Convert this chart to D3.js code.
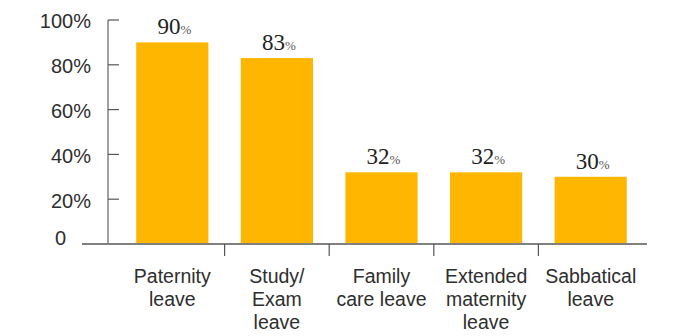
<!DOCTYPE html>
<html>
<head>
<meta charset="utf-8">
<script src="https://cdn.jsdelivr.net/npm/d3@7"></script>
<style>
  html, body { margin: 0; padding: 0; background: #fff; }
  svg { display: block; }
</style>
</head>
<body>
<svg id="chart" width="681" height="336"></svg>
<script>
// Share of respondents offered each type of leave
const categories = [
  ["Paternity", "leave"],
  ["Study/", "Exam", "leave"],
  ["Family", "care leave"],
  ["Extended", "maternity", "leave"],
  ["Sabbatical", "leave"]
];
const values = [90, 83, 32, 32, 30];
const yTicks = [0, 20, 40, 60, 80, 100];

const svg = d3.select("#chart");
const ids = categories.map((c, i) => i);

const x = d3.scaleBand().domain(ids).range([120, 643]).paddingInner(0.31).paddingOuter(0.155);
const xBand = d3.scaleBand().domain(ids).range([120, 643]);
const y = d3.scaleLinear().domain([0, 100]).range([244, 20]);

const axisColor = "#808080";
const textColor = "#2e2e2e";
const sans = "'Liberation Sans', Arial, Helvetica, sans-serif";
const serif = "'Liberation Serif', 'Times New Roman', serif";

// Bars
svg.append("g").selectAll("rect")
  .data(values)
  .join("rect")
  .attr("x", (d, i) => x(i))
  .attr("y", d => y(d))
  .attr("width", x.bandwidth())
  .attr("height", d => y(0) - y(d))
  .attr("fill", "#FFB600");

// Y axis: vertical line with inward ticks
const yAxis = svg.append("g").attr("transform", "translate(108,0)");
yAxis.append("line")
  .attr("x1", 0).attr("x2", 0)
  .attr("y1", y(100)).attr("y2", y(0))
  .attr("stroke", axisColor).attr("stroke-width", 1.5);
yAxis.selectAll("line.tick")
  .data(yTicks.filter(d => d > 0))
  .join("line")
  .attr("class", "tick")
  .attr("x1", 0).attr("x2", 11)
  .attr("y1", d => y(d)).attr("y2", d => y(d))
  .attr("stroke", "#555").attr("stroke-width", 1.2);
yAxis.selectAll("text")
  .data(yTicks)
  .join("text")
  .attr("x", d => d === 0 ? -42 : -17)
  .attr("y", d => y(d))
  .attr("dy", d => d === 0 ? "0.05em" : "0.42em")
  .attr("text-anchor", "end")
  .attr("font-family", sans)
  .attr("font-size", 20)
  .attr("fill", textColor)
  .text(d => d === 0 ? "0" : d + "%");

// Baseline and category separators
svg.append("line")
  .attr("x1", 82).attr("x2", 647)
  .attr("y1", y(0)).attr("y2", y(0))
  .attr("stroke", axisColor).attr("stroke-width", 2);
svg.append("g").selectAll("line")
  .data(ids.slice(1))
  .join("line")
  .attr("x1", d => xBand(d)).attr("x2", d => xBand(d))
  .attr("y1", y(0)).attr("y2", y(0) + 12)
  .attr("stroke", "#555").attr("stroke-width", 1.2);

// Category labels
const catG = svg.append("g");
categories.forEach((lines, i) => {
  const t = catG.append("text")
    .attr("text-anchor", "middle")
    .attr("font-family", sans)
    .attr("font-size", 19.5)
    .attr("fill", textColor);
  lines.forEach((ln, j) => {
    t.append("tspan")
      .attr("x", x(i) + x.bandwidth() / 2)
      .attr("y", 283 + j * 23)
      .text(ln);
  });
});

// Value labels
svg.append("g").selectAll("text")
  .data(values)
  .join("text")
  .attr("x", (d, i) => x(i) + x.bandwidth() / 2 + 2)
  .attr("y", d => y(d) - 8)
  .attr("text-anchor", "middle")
  .attr("font-family", serif)
  .attr("fill", "#222")
  .each(function(d) {
    const t = d3.select(this);
    t.append("tspan").attr("font-size", 23).text(d);
    t.append("tspan").attr("font-size", 13).attr("fill", "#555").text("%");
  });
</script>
</body>
</html>
